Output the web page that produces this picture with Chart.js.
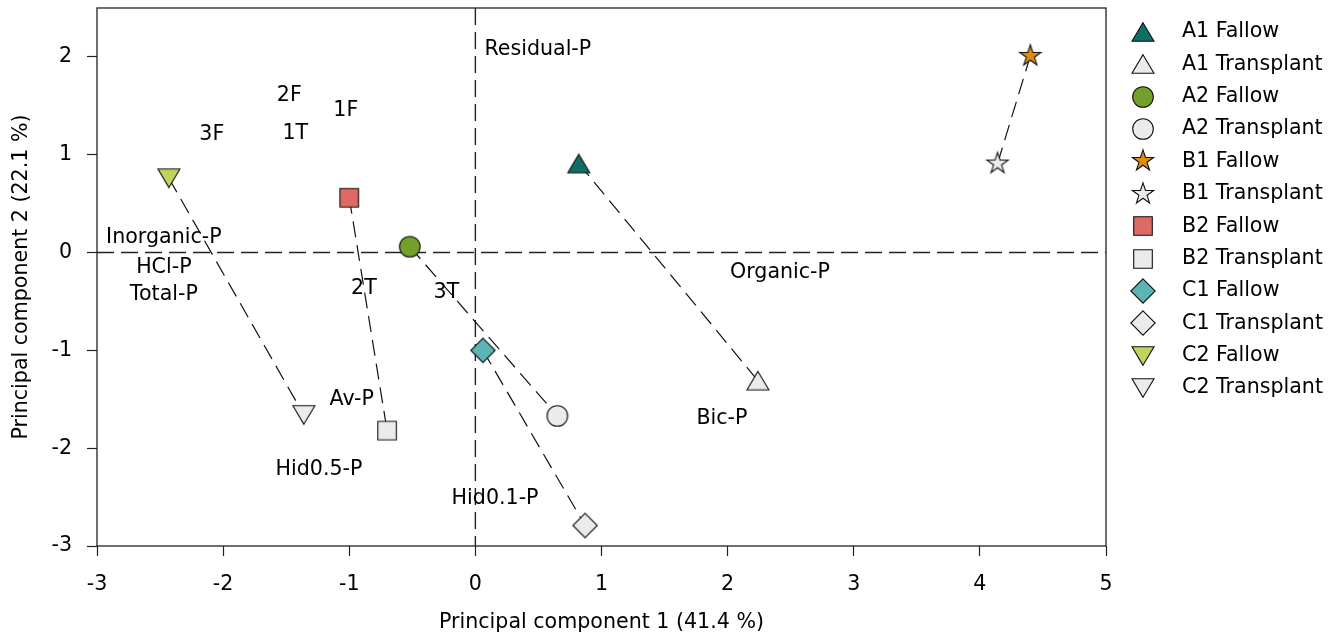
<!DOCTYPE html>
<html><head><meta charset="utf-8">
<script src="https://cdn.jsdelivr.net/npm/chart.js@4.4.1/dist/chart.umd.min.js"></script>
<style>html,body{margin:0;padding:0;background:#fff;} #wrap{width:1338px;height:636px;}</style>
</head><body><div id="wrap"><canvas id="c" width="1338" height="636"></canvas></div>
<script>
// ---------- data ----------
const groups = ['A1', 'A2', 'B1', 'B2', 'C1', 'C2'];
const fallowX = [0.82, -0.52, 4.40, -1.00, 0.06, -2.43];
const fallowY = [0.91, 0.06, 2.01, 0.56, -1.00, 0.76];
const transX  = [2.24, 0.65, 4.14, -0.70, 0.87, -1.36];
const transY  = [-1.31, -1.67, 0.91, -1.82, -2.79, -1.66];
const xTicks = [-3, -2, -1, 0, 1, 2, 3, 4, 5];
const yTicks = [-3, -2, -1, 0, 1, 2];
const loadingLabels = ['Residual-P', '2F', '1F', '3F', '1T', 'Inorganic-P', 'HCl-P', 'Total-P', '2T', '3T', 'Organic-P', 'Av-P', 'Bic-P', 'Hid0.5-P', 'Hid0.1-P'];
const loadingX = [0.495, -1.475, -1.027, -2.09, -1.428, -2.47, -2.47, -2.47, -0.884, -0.23, 2.415, -0.98, 1.955, -1.24, 0.156];
const loadingY = [2.075, 1.603, 1.446, 1.21, 1.22, 0.157, -0.15, -0.43, -0.366, -0.407, -0.202, -1.50, -1.70, -2.22, -2.515];

// ---------- styles ----------
const FONT = "'DejaVu Sans', sans-serif";
const FS = 20.6;
const fallowFill = ['#0e6e66', '#72a02b', '#e28c0c', '#de6a66', '#5db4b4', '#bfd45c'];
const transFill = '#ebebeb';
const shapes = ['triangle', 'circle', 'star', 'square', 'diamond', 'triangleDown'];

function makeMarker(shape, fill) {
  const S = 32;
  const c = document.createElement('canvas');
  c.width = S; c.height = S;
  const g = c.getContext('2d');
  g.translate(S / 2, S / 2);
  g.beginPath();
  switch (shape) {
    case 'circle': g.arc(0, 0, 10.3, 0, Math.PI * 2); break;
    case 'triangle': g.moveTo(0, -9.3); g.lineTo(11, 9.3); g.lineTo(-11, 9.3); g.closePath(); break;
    case 'triangleDown': g.moveTo(0, 9.3); g.lineTo(11, -9.3); g.lineTo(-11, -9.3); g.closePath(); break;
    case 'square': g.rect(-9.3, -9.3, 18.6, 18.6); break;
    case 'diamond': g.moveTo(0, -12.2); g.lineTo(12.2, 0); g.lineTo(0, 12.2); g.lineTo(-12.2, 0); g.closePath(); break;
    case 'star': {
      const R = 11.2, r = R * 0.382;
      for (let k = 0; k < 10; k++) {
        const a = -Math.PI / 2 + k * Math.PI / 5;
        const rr = k % 2 === 0 ? R : r;
        const px = Math.cos(a) * rr, py = Math.sin(a) * rr;
        if (k === 0) g.moveTo(px, py); else g.lineTo(px, py);
      }
      g.closePath();
      break;
    }
  }
  g.fillStyle = fill; g.fill();
  g.lineWidth = 1.1; g.strokeStyle = '#111'; g.lineJoin = 'miter'; g.stroke();
  return c;
}

const datasets = [];
const legendItems = [];
groups.forEach((gname, i) => {
  const fm = makeMarker(shapes[i], fallowFill[i]);
  const tm = makeMarker(shapes[i], transFill);
  datasets.push({ label: gname + ' Fallow', data: [{ x: fallowX[i], y: fallowY[i] }], pointStyle: fm, pointRadius: 11, order: 1 });
  datasets.push({ label: gname + ' Transplant', data: [{ x: transX[i], y: transY[i] }], pointStyle: tm, pointRadius: 11, order: 1 });
  legendItems.push({ label: gname + ' Fallow', marker: fm });
  legendItems.push({ label: gname + ' Transplant', marker: tm });
});
groups.forEach((gname, i) => {
  datasets.push({
    label: gname + ' link', showLine: true, order: 10,
    data: [{ x: fallowX[i], y: fallowY[i] }, { x: transX[i], y: transY[i] }],
    borderColor: '#111', borderWidth: 1.2, borderDash: [16, 8], pointRadius: 0, fill: false
  });
});

const deco = {
  id: 'deco',
  beforeDatasetsDraw(chart) {
    const { ctx, chartArea: a, scales: { x, y } } = chart;
    ctx.save();
    ctx.strokeStyle = '#222'; ctx.lineWidth = 1.4; ctx.setLineDash([17, 7]);
    const x0 = x.getPixelForValue(0), y0 = y.getPixelForValue(0);
    ctx.beginPath(); ctx.moveTo(x0, a.top); ctx.lineTo(x0, a.bottom); ctx.stroke();
    ctx.beginPath(); ctx.moveTo(a.left, y0); ctx.lineTo(a.right, y0); ctx.stroke();
    ctx.restore();
  },
  afterDatasetsDraw(chart) {
    const { ctx, chartArea: a, scales: { x, y } } = chart;
    ctx.save();
    ctx.font = FS + 'px ' + FONT; ctx.fillStyle = '#000';
    ctx.textAlign = 'center'; ctx.textBaseline = 'middle';
    loadingLabels.forEach((t, i) => {
      ctx.fillText(t, x.getPixelForValue(loadingX[i]), y.getPixelForValue(loadingY[i]));
    });
    // frame
    ctx.strokeStyle = '#222'; ctx.lineWidth = 1.3; ctx.setLineDash([]);
    ctx.strokeRect(a.left, a.top, a.right - a.left, a.bottom - a.top);
    // legend
    ctx.textAlign = 'left';
    legendItems.forEach((it, i) => {
      const cy = 32 + i * 32.37;
      ctx.drawImage(it.marker, Math.round(1143.3 - it.marker.width / 2), Math.round(cy - it.marker.height / 2));
      ctx.fillText(it.label, 1182, cy);
    });
    ctx.restore();
  }
};

const tickFont = { family: FONT, size: FS };
new Chart(document.getElementById('c'), {
  type: 'scatter',
  data: { datasets },
  options: {
    responsive: false, animation: false, devicePixelRatio: 1,
    layout: { autoPadding: false, padding: { top: 8, right: 232, left: 0, bottom: 0 } },
    plugins: { legend: { display: false }, tooltip: { enabled: false } },
    events: [],
    scales: {
      x: {
        type: 'linear', min: -3, max: 5,
        afterBuildTicks: s => { s.ticks = xTicks.map(v => ({ value: v })); },
        afterFit: s => { s.height = 90; s.paddingLeft = 0; s.paddingRight = 0; s.paddingTop = 0; s.paddingBottom = 0; },
        grid: { display: true, drawOnChartArea: false, drawTicks: true, tickLength: 10, tickColor: '#222', tickWidth: 1.2 },
        border: { display: false },
        ticks: { padding: 16, color: '#000', font: tickFont, maxRotation: 0, autoSkip: false },
        title: { display: true, text: 'Principal component 1 (41.4 %)', color: '#000', font: tickFont, padding: { top: 0, bottom: 1 } }
      },
      y: {
        type: 'linear', min: -3, max: 2.5,
        afterBuildTicks: s => { s.ticks = yTicks.map(v => ({ value: v })); },
        afterFit: s => { s.width = 97; s.paddingLeft = 0; s.paddingRight = 0; s.paddingTop = 0; s.paddingBottom = 0; },
        grid: { display: true, drawOnChartArea: false, drawTicks: true, tickLength: 10, tickColor: '#222', tickWidth: 1.2 },
        border: { display: false },
        ticks: { padding: 15, color: '#000', font: tickFont, autoSkip: false },
        title: { display: true, text: 'Principal component 2 (22.1 %)', color: '#000', font: tickFont, padding: { top: 9, bottom: 0 } }
      }
    }
  },
  plugins: [deco]
});
</script>
</body></html>
